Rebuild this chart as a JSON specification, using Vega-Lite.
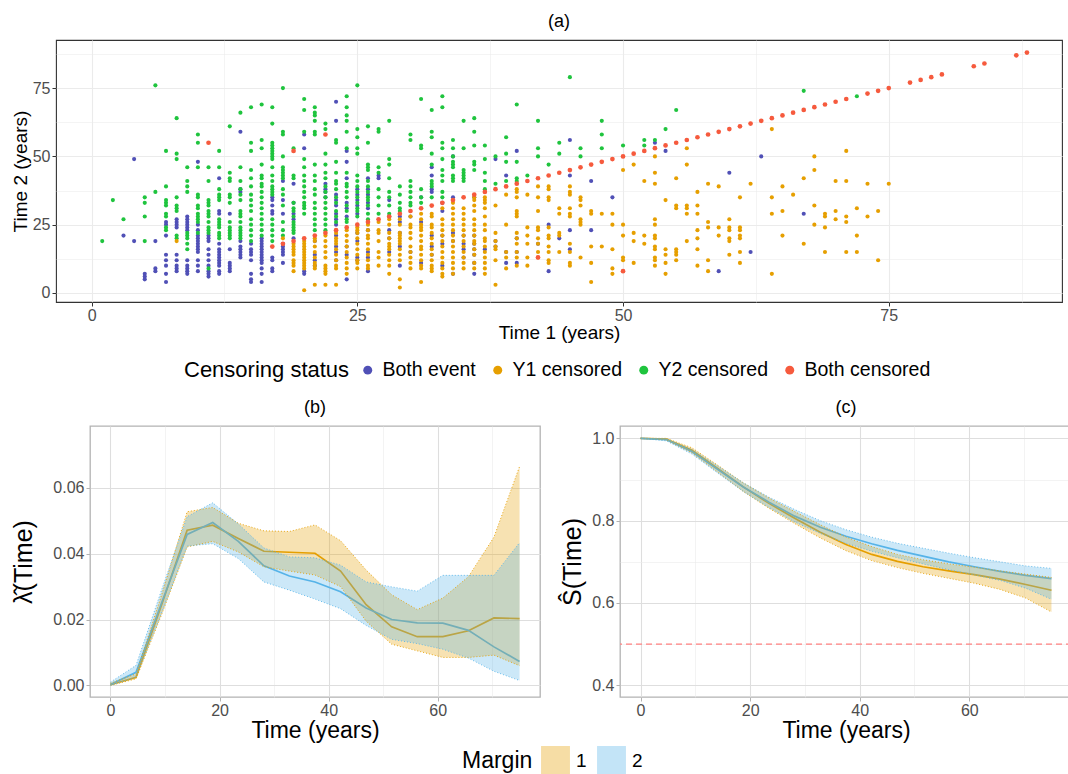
{
"$schema": "https://vega.github.io/schema/vega-lite/v6.json",
"padding": {"left": 10, "top": 12, "right": 0, "bottom": 0},
"config": {
  "font": "Liberation Sans",
  "title": {"fontSize": 18, "fontWeight": "normal", "offset": 9, "anchor": "middle", "frame": "group", "color": "#000000"},
  "axis": {"domain": false, "labelOverlap": false, "labelFlush": false, "titleFontWeight": "normal", "titleColor": "#000000", "labelColor": "#4D4D4D", "tickSize": 4},
  "legend": {"titleFontWeight": "normal", "titleColor": "#000000", "labelColor": "#000000", "titleLimit": 500, "labelLimit": 300},
  "view": {"strokeWidth": 1}
},
"datasets": {
"E": [
{"t1":3,"t2":21},{"t1":4,"t2":49},{"t1":4,"t2":19},{"t1":5,"t2":7},{"t1":5,"t2":6},{"t1":5,"t2":5},{"t1":6,"t2":19},{"t1":6,"t2":9},{"t1":6,"t2":8},
{"t1":7,"t2":26},{"t1":7,"t2":25},{"t1":7,"t2":21},{"t1":7,"t2":14},{"t1":7,"t2":12},{"t1":7,"t2":10},{"t1":7,"t2":7},{"t1":7,"t2":4},
{"t1":8,"t2":27},{"t1":8,"t2":26},{"t1":8,"t2":25},{"t1":8,"t2":24},{"t1":8,"t2":14},{"t1":8,"t2":12},{"t1":8,"t2":10},{"t1":8,"t2":9},{"t1":8,"t2":8},
{"t1":9,"t2":28},{"t1":9,"t2":27},{"t1":9,"t2":26},{"t1":9,"t2":25},{"t1":9,"t2":24},{"t1":9,"t2":23},{"t1":9,"t2":12},{"t1":9,"t2":10},{"t1":9,"t2":9},{"t1":9,"t2":8},{"t1":9,"t2":7},
{"t1":10,"t2":48},{"t1":10,"t2":25},{"t1":10,"t2":23},{"t1":10,"t2":21},{"t1":10,"t2":20},{"t1":10,"t2":19},{"t1":10,"t2":18},{"t1":10,"t2":17},{"t1":10,"t2":16},{"t1":10,"t2":15},{"t1":10,"t2":12},{"t1":10,"t2":10},{"t1":10,"t2":8},
{"t1":11,"t2":21},{"t1":11,"t2":20},{"t1":11,"t2":19},{"t1":11,"t2":16},{"t1":11,"t2":14},{"t1":11,"t2":12},{"t1":11,"t2":10},{"t1":11,"t2":8},{"t1":11,"t2":7},{"t1":11,"t2":6},
{"t1":12,"t2":42},{"t1":12,"t2":30},{"t1":12,"t2":29},{"t1":12,"t2":18},{"t1":12,"t2":16},{"t1":12,"t2":15},{"t1":12,"t2":14},{"t1":12,"t2":13},{"t1":12,"t2":12},{"t1":12,"t2":11},{"t1":12,"t2":10},{"t1":12,"t2":8},{"t1":12,"t2":7},
{"t1":13,"t2":29},{"t1":13,"t2":16},{"t1":13,"t2":11},{"t1":13,"t2":10},{"t1":13,"t2":9},{"t1":13,"t2":8},
{"t1":14,"t2":59},{"t1":14,"t2":38},{"t1":14,"t2":37},{"t1":14,"t2":19},{"t1":14,"t2":17},{"t1":14,"t2":16},{"t1":14,"t2":15},{"t1":14,"t2":14},{"t1":14,"t2":13},
{"t1":15,"t2":18},{"t1":15,"t2":16},{"t1":15,"t2":15},{"t1":15,"t2":14},{"t1":15,"t2":12},{"t1":15,"t2":7},{"t1":15,"t2":5},{"t1":15,"t2":4},
{"t1":16,"t2":20},{"t1":16,"t2":19},{"t1":16,"t2":18},{"t1":16,"t2":17},{"t1":16,"t2":16},{"t1":16,"t2":15},{"t1":16,"t2":14},{"t1":16,"t2":13},{"t1":16,"t2":12},{"t1":16,"t2":11},{"t1":16,"t2":9},{"t1":16,"t2":7},{"t1":16,"t2":4},
{"t1":17,"t2":35},{"t1":17,"t2":34},{"t1":17,"t2":32},{"t1":17,"t2":30},{"t1":17,"t2":29},{"t1":17,"t2":13},{"t1":17,"t2":12},{"t1":17,"t2":9},{"t1":17,"t2":8},
{"t1":18,"t2":41},{"t1":18,"t2":34},{"t1":18,"t2":29},{"t1":18,"t2":18},{"t1":18,"t2":17},{"t1":18,"t2":16},{"t1":18,"t2":15},{"t1":18,"t2":14},{"t1":18,"t2":11},
{"t1":19,"t2":40},{"t1":19,"t2":33},{"t1":19,"t2":29},{"t1":19,"t2":27},{"t1":19,"t2":20},
{"t1":20,"t2":58},{"t1":20,"t2":53},{"t1":20,"t2":8},{"t1":20,"t2":7},
{"t1":21,"t2":19},{"t1":21,"t2":14},{"t1":21,"t2":12},{"t1":21,"t2":10},
{"t1":22,"t2":40},{"t1":22,"t2":38},{"t1":22,"t2":37},{"t1":22,"t2":35},
{"t1":23,"t2":70},{"t1":23,"t2":63},{"t1":23,"t2":36},{"t1":23,"t2":34},{"t1":23,"t2":32},{"t1":23,"t2":29},{"t1":23,"t2":27},{"t1":23,"t2":25},{"t1":23,"t2":21},{"t1":23,"t2":17},{"t1":23,"t2":15},{"t1":23,"t2":12},
{"t1":24,"t2":52},{"t1":24,"t2":48},{"t1":24,"t2":42},{"t1":24,"t2":33},{"t1":24,"t2":31},{"t1":24,"t2":28},{"t1":24,"t2":17},{"t1":24,"t2":14},{"t1":24,"t2":5},
{"t1":25,"t2":38},{"t1":25,"t2":36},{"t1":25,"t2":34},{"t1":25,"t2":32},{"t1":25,"t2":29},{"t1":25,"t2":22},{"t1":25,"t2":19},{"t1":25,"t2":13},{"t1":25,"t2":12},
{"t1":26,"t2":42},{"t1":26,"t2":38},{"t1":26,"t2":36},{"t1":26,"t2":33},{"t1":26,"t2":31},{"t1":26,"t2":23},{"t1":26,"t2":15},{"t1":26,"t2":13},{"t1":26,"t2":8},
{"t1":27,"t2":43},{"t1":27,"t2":42},
{"t1":28,"t2":34},{"t1":28,"t2":28},{"t1":28,"t2":23},{"t1":28,"t2":20},{"t1":28,"t2":15},
{"t1":29,"t2":28},{"t1":29,"t2":26},{"t1":29,"t2":22},{"t1":29,"t2":17},{"t1":29,"t2":10},
{"t1":30,"t2":28},{"t1":30,"t2":15},
{"t1":31,"t2":35},{"t1":31,"t2":26},{"t1":31,"t2":11},
{"t1":32,"t2":46},{"t1":32,"t2":43},{"t1":32,"t2":38},{"t1":32,"t2":37},{"t1":32,"t2":21},{"t1":32,"t2":17},{"t1":32,"t2":14},
{"t1":33,"t2":33},{"t1":33,"t2":30},{"t1":33,"t2":21},{"t1":33,"t2":18},{"t1":33,"t2":10},
{"t1":34,"t2":50},{"t1":34,"t2":35},{"t1":34,"t2":22},{"t1":34,"t2":19},{"t1":34,"t2":7},
{"t1":35,"t2":21},{"t1":35,"t2":18},{"t1":35,"t2":16},{"t1":35,"t2":13},
{"t1":36,"t2":35},{"t1":36,"t2":21},{"t1":36,"t2":18},{"t1":36,"t2":16},{"t1":36,"t2":14},{"t1":36,"t2":11},{"t1":36,"t2":7},
{"t1":37,"t2":16},{"t1":38,"t2":49},{"t1":38,"t2":19},{"t1":38,"t2":17},{"t1":39,"t2":43},{"t1":39,"t2":15},{"t1":39,"t2":11},
{"t1":40,"t2":52},{"t1":40,"t2":20},{"t1":40,"t2":15},{"t1":40,"t2":11},{"t1":42,"t2":18},{"t1":43,"t2":25},{"t1":43,"t2":8},{"t1":44,"t2":20},
{"t1":45,"t2":56},{"t1":45,"t2":43},{"t1":45,"t2":23},{"t1":45,"t2":16},{"t1":47,"t2":41},{"t1":47,"t2":23},{"t1":49,"t2":35},{"t1":53,"t2":55},{"t1":54,"t2":52},
{"t1":59,"t2":8},{"t1":60,"t2":44},{"t1":62,"t2":15},{"t1":63,"t2":50},{"t1":67,"t2":29}
],
"Y1": [
{"t1":8,"t2":19},{"t1":18,"t2":20},
{"t1":19,"t2":18},{"t1":19,"t2":17},{"t1":19,"t2":16},{"t1":19,"t2":15},{"t1":19,"t2":14},{"t1":19,"t2":12},{"t1":19,"t2":11},{"t1":19,"t2":10},{"t1":19,"t2":8},
{"t1":20,"t2":19},{"t1":20,"t2":18},{"t1":20,"t2":17},{"t1":20,"t2":16},{"t1":20,"t2":15},{"t1":20,"t2":14},{"t1":20,"t2":13},{"t1":20,"t2":12},{"t1":20,"t2":11},{"t1":20,"t2":10},{"t1":20,"t2":9},{"t1":20,"t2":1},
{"t1":21,"t2":20},{"t1":21,"t2":19},{"t1":21,"t2":17},{"t1":21,"t2":15},{"t1":21,"t2":13},{"t1":21,"t2":11},{"t1":21,"t2":10},{"t1":21,"t2":9},{"t1":21,"t2":3},
{"t1":22,"t2":21},{"t1":22,"t2":19},{"t1":22,"t2":17},{"t1":22,"t2":15},{"t1":22,"t2":13},{"t1":22,"t2":10},{"t1":22,"t2":9},{"t1":22,"t2":8},{"t1":22,"t2":7},{"t1":22,"t2":3},
{"t1":23,"t2":22},{"t1":23,"t2":20},{"t1":23,"t2":19},{"t1":23,"t2":18},{"t1":23,"t2":16},{"t1":23,"t2":14},{"t1":23,"t2":12},{"t1":23,"t2":10},{"t1":23,"t2":9},{"t1":23,"t2":3},
{"t1":24,"t2":23},{"t1":24,"t2":21},{"t1":24,"t2":19},{"t1":24,"t2":17},{"t1":24,"t2":15},{"t1":24,"t2":13},{"t1":24,"t2":11},{"t1":24,"t2":9},{"t1":24,"t2":7},
{"t1":25,"t2":24},{"t1":25,"t2":23},{"t1":25,"t2":22},{"t1":25,"t2":20},{"t1":25,"t2":18},{"t1":25,"t2":16},{"t1":25,"t2":14},{"t1":25,"t2":12},{"t1":25,"t2":11},{"t1":25,"t2":9},
{"t1":26,"t2":25},{"t1":26,"t2":23},{"t1":26,"t2":21},{"t1":26,"t2":20},{"t1":26,"t2":18},{"t1":26,"t2":16},{"t1":26,"t2":14},{"t1":26,"t2":12},{"t1":26,"t2":10},{"t1":26,"t2":9},
{"t1":27,"t2":26},{"t1":27,"t2":23},{"t1":27,"t2":22},{"t1":27,"t2":19},{"t1":27,"t2":15},{"t1":27,"t2":13},{"t1":27,"t2":10},
{"t1":28,"t2":27},{"t1":28,"t2":25},{"t1":28,"t2":22},{"t1":28,"t2":20},{"t1":28,"t2":18},{"t1":28,"t2":17},{"t1":28,"t2":16},{"t1":28,"t2":14},{"t1":28,"t2":12},{"t1":28,"t2":10},{"t1":28,"t2":7},
{"t1":29,"t2":27},{"t1":29,"t2":25},{"t1":29,"t2":22},{"t1":29,"t2":21},{"t1":29,"t2":20},{"t1":29,"t2":19},{"t1":29,"t2":18},{"t1":29,"t2":16},{"t1":29,"t2":14},{"t1":29,"t2":12},{"t1":29,"t2":5},{"t1":29,"t2":2},
{"t1":30,"t2":28},{"t1":30,"t2":25},{"t1":30,"t2":24},{"t1":30,"t2":22},{"t1":30,"t2":20},{"t1":30,"t2":17},{"t1":30,"t2":15},{"t1":30,"t2":13},{"t1":30,"t2":11},{"t1":30,"t2":9},
{"t1":31,"t2":29},{"t1":31,"t2":27},{"t1":31,"t2":25},{"t1":31,"t2":24},{"t1":31,"t2":23},{"t1":31,"t2":21},{"t1":31,"t2":19},{"t1":31,"t2":17},{"t1":31,"t2":16},{"t1":31,"t2":14},{"t1":31,"t2":12},{"t1":31,"t2":10},{"t1":31,"t2":9},{"t1":31,"t2":4},
{"t1":32,"t2":29},{"t1":32,"t2":28},{"t1":32,"t2":25},{"t1":32,"t2":24},{"t1":32,"t2":22},{"t1":32,"t2":20},{"t1":32,"t2":18},{"t1":32,"t2":16},{"t1":32,"t2":14},{"t1":32,"t2":12},{"t1":32,"t2":10},{"t1":32,"t2":9},{"t1":32,"t2":8},
{"t1":33,"t2":31},{"t1":33,"t2":27},{"t1":33,"t2":25},{"t1":33,"t2":23},{"t1":33,"t2":21},{"t1":33,"t2":19},{"t1":33,"t2":17},{"t1":33,"t2":15},{"t1":33,"t2":13},{"t1":33,"t2":11},{"t1":33,"t2":9},{"t1":33,"t2":7},{"t1":33,"t2":6},
{"t1":34,"t2":33},{"t1":34,"t2":31},{"t1":34,"t2":29},{"t1":34,"t2":27},{"t1":34,"t2":25},{"t1":34,"t2":23},{"t1":34,"t2":21},{"t1":34,"t2":19},{"t1":34,"t2":17},{"t1":34,"t2":15},{"t1":34,"t2":13},{"t1":34,"t2":11},{"t1":34,"t2":9},{"t1":34,"t2":7},
{"t1":35,"t2":31},{"t1":35,"t2":29},{"t1":35,"t2":27},{"t1":35,"t2":25},{"t1":35,"t2":23},{"t1":35,"t2":21},{"t1":35,"t2":19},{"t1":35,"t2":17},{"t1":35,"t2":15},{"t1":35,"t2":13},{"t1":35,"t2":11},{"t1":35,"t2":9},
{"t1":36,"t2":35},{"t1":36,"t2":34},{"t1":36,"t2":32},{"t1":36,"t2":30},{"t1":36,"t2":27},{"t1":36,"t2":25},{"t1":36,"t2":23},{"t1":36,"t2":21},{"t1":36,"t2":19},{"t1":36,"t2":18},{"t1":36,"t2":16},{"t1":36,"t2":14},{"t1":36,"t2":11},{"t1":36,"t2":9},
{"t1":37,"t2":35},{"t1":37,"t2":34},{"t1":37,"t2":33},{"t1":37,"t2":31},{"t1":37,"t2":28},{"t1":37,"t2":25},{"t1":37,"t2":23},{"t1":37,"t2":20},{"t1":37,"t2":19},{"t1":37,"t2":17},{"t1":37,"t2":15},{"t1":37,"t2":13},{"t1":37,"t2":11},{"t1":37,"t2":9},{"t1":37,"t2":7},
{"t1":38,"t2":32},{"t1":38,"t2":22},{"t1":38,"t2":19},{"t1":38,"t2":17},{"t1":38,"t2":16},{"t1":38,"t2":12},{"t1":38,"t2":3},
{"t1":39,"t2":36},{"t1":39,"t2":25},{"t1":39,"t2":15},{"t1":39,"t2":13},{"t1":39,"t2":9},
{"t1":40,"t2":38},{"t1":40,"t2":37},{"t1":40,"t2":35},{"t1":40,"t2":30},{"t1":40,"t2":29},{"t1":40,"t2":28},{"t1":40,"t2":22},{"t1":40,"t2":20},{"t1":40,"t2":18},{"t1":40,"t2":15},{"t1":40,"t2":13},{"t1":40,"t2":10},
{"t1":41,"t2":36},{"t1":41,"t2":24},{"t1":41,"t2":21},{"t1":41,"t2":18},{"t1":41,"t2":13},{"t1":41,"t2":10},
{"t1":42,"t2":39},{"t1":42,"t2":35},{"t1":42,"t2":30},{"t1":42,"t2":24},{"t1":42,"t2":23},{"t1":42,"t2":20},{"t1":42,"t2":18},{"t1":42,"t2":15},{"t1":42,"t2":13},
{"t1":43,"t2":39},{"t1":43,"t2":38},{"t1":43,"t2":35},{"t1":43,"t2":34},{"t1":43,"t2":24},{"t1":43,"t2":21},{"t1":43,"t2":20},{"t1":43,"t2":17},{"t1":43,"t2":15},{"t1":43,"t2":12},{"t1":43,"t2":11},
{"t1":44,"t2":31},{"t1":44,"t2":29},{"t1":44,"t2":22},{"t1":44,"t2":21},{"t1":44,"t2":15},
{"t1":45,"t2":39},{"t1":45,"t2":37},{"t1":45,"t2":36},{"t1":45,"t2":31},{"t1":45,"t2":29},{"t1":45,"t2":28},{"t1":45,"t2":18},{"t1":45,"t2":15},{"t1":45,"t2":11},{"t1":45,"t2":10},
{"t1":46,"t2":35},{"t1":46,"t2":34},{"t1":46,"t2":32},{"t1":46,"t2":27},{"t1":46,"t2":26},{"t1":46,"t2":25},{"t1":46,"t2":13},
{"t1":47,"t2":30},{"t1":47,"t2":29},{"t1":47,"t2":17},{"t1":47,"t2":11},{"t1":47,"t2":4},
{"t1":48,"t2":29},{"t1":48,"t2":17},
{"t1":49,"t2":29},{"t1":49,"t2":25},{"t1":49,"t2":16},{"t1":49,"t2":9},{"t1":49,"t2":7},
{"t1":50,"t2":45},{"t1":50,"t2":25},{"t1":50,"t2":21},{"t1":50,"t2":13},{"t1":50,"t2":12},
{"t1":51,"t2":47},{"t1":51,"t2":22},{"t1":51,"t2":19},{"t1":51,"t2":11},
{"t1":52,"t2":41},{"t1":52,"t2":21},{"t1":52,"t2":18},
{"t1":53,"t2":50},{"t1":53,"t2":44},{"t1":53,"t2":40},{"t1":53,"t2":27},{"t1":53,"t2":25},{"t1":53,"t2":21},{"t1":53,"t2":20},{"t1":53,"t2":17},{"t1":53,"t2":16},{"t1":53,"t2":13},{"t1":53,"t2":12},{"t1":53,"t2":10},
{"t1":54,"t2":34},{"t1":54,"t2":16},{"t1":54,"t2":14},{"t1":54,"t2":11},{"t1":54,"t2":7},
{"t1":55,"t2":42},{"t1":55,"t2":32},{"t1":55,"t2":31},{"t1":55,"t2":16},{"t1":55,"t2":15},{"t1":55,"t2":14},{"t1":55,"t2":12},
{"t1":56,"t2":53},{"t1":56,"t2":47},{"t1":56,"t2":32},{"t1":56,"t2":31},{"t1":56,"t2":29},{"t1":56,"t2":19},
{"t1":57,"t2":37},{"t1":57,"t2":32},{"t1":57,"t2":29},{"t1":57,"t2":23},{"t1":57,"t2":20},{"t1":57,"t2":16},{"t1":57,"t2":10},
{"t1":58,"t2":40},{"t1":58,"t2":26},{"t1":58,"t2":24},{"t1":58,"t2":12},{"t1":58,"t2":8},
{"t1":59,"t2":39},{"t1":59,"t2":24},{"t1":59,"t2":21},
{"t1":60,"t2":27},{"t1":60,"t2":24},{"t1":60,"t2":23},{"t1":60,"t2":20},{"t1":60,"t2":19},{"t1":60,"t2":14},
{"t1":61,"t2":35},{"t1":61,"t2":24},{"t1":61,"t2":23},{"t1":61,"t2":21},{"t1":61,"t2":20},{"t1":61,"t2":15},{"t1":61,"t2":11},
{"t1":62,"t2":40},{"t1":64,"t2":60},{"t1":64,"t2":35},{"t1":64,"t2":29},{"t1":64,"t2":7},
{"t1":65,"t2":39},{"t1":65,"t2":30},{"t1":65,"t2":21},{"t1":66,"t2":36},{"t1":67,"t2":42},{"t1":67,"t2":18},
{"t1":68,"t2":50},{"t1":68,"t2":45},{"t1":68,"t2":32},{"t1":68,"t2":25},
{"t1":69,"t2":29},{"t1":69,"t2":28},{"t1":69,"t2":24},{"t1":69,"t2":15},
{"t1":70,"t2":41},{"t1":70,"t2":30},{"t1":70,"t2":27},
{"t1":71,"t2":52},{"t1":71,"t2":41},{"t1":71,"t2":28},{"t1":71,"t2":26},{"t1":71,"t2":15},
{"t1":72,"t2":31},{"t1":72,"t2":21},{"t1":72,"t2":15},{"t1":73,"t2":40},{"t1":73,"t2":28},{"t1":74,"t2":30},{"t1":74,"t2":12},{"t1":75,"t2":40}
],
"Y2": [
{"t1":1,"t2":19},{"t1":2,"t2":34},{"t1":3,"t2":27},
{"t1":5,"t2":35},{"t1":5,"t2":33},{"t1":5,"t2":28},{"t1":5,"t2":19},{"t1":6,"t2":76},{"t1":6,"t2":37},
{"t1":7,"t2":52},{"t1":7,"t2":39},{"t1":7,"t2":34},{"t1":7,"t2":33},{"t1":7,"t2":32},{"t1":7,"t2":29},{"t1":7,"t2":28},{"t1":7,"t2":24},{"t1":7,"t2":23},
{"t1":8,"t2":64},{"t1":8,"t2":51},{"t1":8,"t2":49},{"t1":8,"t2":35},{"t1":8,"t2":32},{"t1":8,"t2":31},{"t1":8,"t2":30},{"t1":8,"t2":21},{"t1":8,"t2":20},
{"t1":9,"t2":46},{"t1":9,"t2":41},{"t1":9,"t2":39},{"t1":9,"t2":37},{"t1":9,"t2":22},{"t1":9,"t2":21},{"t1":9,"t2":20},{"t1":9,"t2":18},{"t1":9,"t2":16},
{"t1":10,"t2":58},{"t1":10,"t2":55},{"t1":10,"t2":46},{"t1":10,"t2":36},{"t1":10,"t2":35},{"t1":10,"t2":32},{"t1":10,"t2":31},{"t1":10,"t2":29},{"t1":10,"t2":28},{"t1":10,"t2":27},{"t1":10,"t2":26},{"t1":10,"t2":22},
{"t1":11,"t2":46},{"t1":11,"t2":41},{"t1":11,"t2":34},{"t1":11,"t2":33},{"t1":11,"t2":32},{"t1":11,"t2":30},{"t1":11,"t2":29},{"t1":11,"t2":28},{"t1":11,"t2":26},{"t1":11,"t2":24},{"t1":11,"t2":23},{"t1":11,"t2":22},{"t1":11,"t2":9},
{"t1":12,"t2":52},{"t1":12,"t2":46},{"t1":12,"t2":38},{"t1":12,"t2":36},{"t1":12,"t2":35},{"t1":12,"t2":34},{"t1":12,"t2":27},{"t1":12,"t2":26},{"t1":12,"t2":25},{"t1":12,"t2":24},{"t1":12,"t2":22},{"t1":12,"t2":21},{"t1":12,"t2":20},
{"t1":13,"t2":61},{"t1":13,"t2":44},{"t1":13,"t2":42},{"t1":13,"t2":41},{"t1":13,"t2":36},{"t1":13,"t2":35},{"t1":13,"t2":33},{"t1":13,"t2":26},{"t1":13,"t2":24},{"t1":13,"t2":23},{"t1":13,"t2":22},{"t1":13,"t2":21},{"t1":13,"t2":20},
{"t1":14,"t2":66},{"t1":14,"t2":46},{"t1":14,"t2":41},{"t1":14,"t2":38},{"t1":14,"t2":36},{"t1":14,"t2":34},{"t1":14,"t2":30},{"t1":14,"t2":29},{"t1":14,"t2":28},{"t1":14,"t2":26},{"t1":14,"t2":24},{"t1":14,"t2":23},{"t1":14,"t2":22},{"t1":14,"t2":21},{"t1":14,"t2":20},
{"t1":15,"t2":68},{"t1":15,"t2":55},{"t1":15,"t2":52},{"t1":15,"t2":45},{"t1":15,"t2":42},{"t1":15,"t2":39},{"t1":15,"t2":36},{"t1":15,"t2":34},{"t1":15,"t2":32},{"t1":15,"t2":30},{"t1":15,"t2":27},{"t1":15,"t2":25},{"t1":15,"t2":23},{"t1":15,"t2":21},{"t1":15,"t2":19},
{"t1":16,"t2":69},{"t1":16,"t2":56},{"t1":16,"t2":53},{"t1":16,"t2":47},{"t1":16,"t2":43},{"t1":16,"t2":42},{"t1":16,"t2":40},{"t1":16,"t2":39},{"t1":16,"t2":37},{"t1":16,"t2":35},{"t1":16,"t2":33},{"t1":16,"t2":31},{"t1":16,"t2":29},{"t1":16,"t2":27},{"t1":16,"t2":25},{"t1":16,"t2":23},{"t1":16,"t2":21},
{"t1":17,"t2":68},{"t1":17,"t2":62},{"t1":17,"t2":55},{"t1":17,"t2":54},{"t1":17,"t2":53},{"t1":17,"t2":52},{"t1":17,"t2":51},{"t1":17,"t2":50},{"t1":17,"t2":49},{"t1":17,"t2":46},{"t1":17,"t2":43},{"t1":17,"t2":41},{"t1":17,"t2":39},{"t1":17,"t2":38},{"t1":17,"t2":37},{"t1":17,"t2":36},{"t1":17,"t2":27},{"t1":17,"t2":25},{"t1":17,"t2":23},{"t1":17,"t2":21},{"t1":17,"t2":19},
{"t1":18,"t2":75},{"t1":18,"t2":59},{"t1":18,"t2":58},{"t1":18,"t2":50},{"t1":18,"t2":46},{"t1":18,"t2":45},{"t1":18,"t2":44},{"t1":18,"t2":43},{"t1":18,"t2":42},{"t1":18,"t2":38},{"t1":18,"t2":36},{"t1":18,"t2":32},{"t1":18,"t2":26},{"t1":18,"t2":23},{"t1":18,"t2":21},
{"t1":19,"t2":53},{"t1":19,"t2":43},{"t1":19,"t2":42},{"t1":19,"t2":33},{"t1":19,"t2":31},{"t1":19,"t2":30},{"t1":19,"t2":28},{"t1":19,"t2":26},{"t1":19,"t2":25},{"t1":19,"t2":24},{"t1":19,"t2":23},{"t1":19,"t2":22},
{"t1":20,"t2":71},{"t1":20,"t2":67},{"t1":20,"t2":59},{"t1":20,"t2":49},{"t1":20,"t2":46},{"t1":20,"t2":43},{"t1":20,"t2":41},{"t1":20,"t2":39},{"t1":20,"t2":37},{"t1":20,"t2":35},{"t1":20,"t2":33},{"t1":20,"t2":32},{"t1":20,"t2":31},{"t1":20,"t2":29},
{"t1":21,"t2":68},{"t1":21,"t2":66},{"t1":21,"t2":65},{"t1":21,"t2":63},{"t1":21,"t2":59},{"t1":21,"t2":58},{"t1":21,"t2":47},{"t1":21,"t2":43},{"t1":21,"t2":41},{"t1":21,"t2":38},{"t1":21,"t2":36},{"t1":21,"t2":33},{"t1":21,"t2":31},{"t1":21,"t2":29},{"t1":21,"t2":27},{"t1":21,"t2":25},{"t1":21,"t2":23},
{"t1":22,"t2":62},{"t1":22,"t2":60},{"t1":22,"t2":51},{"t1":22,"t2":47},{"t1":22,"t2":44},{"t1":22,"t2":42},{"t1":22,"t2":39},{"t1":22,"t2":37},{"t1":22,"t2":35},{"t1":22,"t2":33},{"t1":22,"t2":31},{"t1":22,"t2":29},{"t1":22,"t2":27},{"t1":22,"t2":25},{"t1":22,"t2":23},
{"t1":23,"t2":56},{"t1":23,"t2":55},{"t1":23,"t2":48},{"t1":23,"t2":44},{"t1":23,"t2":41},{"t1":23,"t2":40},{"t1":23,"t2":38},{"t1":23,"t2":35},{"t1":23,"t2":33},{"t1":23,"t2":30},{"t1":23,"t2":28},{"t1":23,"t2":26},
{"t1":24,"t2":72},{"t1":24,"t2":68},{"t1":24,"t2":65},{"t1":24,"t2":63},{"t1":24,"t2":59},{"t1":24,"t2":53},{"t1":24,"t2":44},{"t1":24,"t2":40},{"t1":24,"t2":39},{"t1":24,"t2":37},{"t1":24,"t2":35},{"t1":24,"t2":32},{"t1":24,"t2":30},{"t1":24,"t2":27},{"t1":24,"t2":26},
{"t1":25,"t2":76},{"t1":25,"t2":60},{"t1":25,"t2":57},{"t1":25,"t2":53},{"t1":25,"t2":51},{"t1":25,"t2":43},{"t1":25,"t2":41},{"t1":25,"t2":39},{"t1":25,"t2":37},{"t1":25,"t2":35},{"t1":25,"t2":33},{"t1":25,"t2":31},{"t1":25,"t2":30},{"t1":25,"t2":28},
{"t1":26,"t2":61},{"t1":26,"t2":55},{"t1":26,"t2":47},{"t1":26,"t2":46},{"t1":26,"t2":45},{"t1":26,"t2":41},{"t1":26,"t2":39},{"t1":26,"t2":37},{"t1":26,"t2":35},{"t1":26,"t2":34},{"t1":26,"t2":32},{"t1":26,"t2":29},{"t1":26,"t2":27},
{"t1":27,"t2":60},{"t1":27,"t2":59},{"t1":27,"t2":46},{"t1":27,"t2":44},{"t1":27,"t2":38},{"t1":27,"t2":35},{"t1":27,"t2":32},{"t1":27,"t2":29},
{"t1":28,"t2":63},{"t1":28,"t2":49},{"t1":28,"t2":47},{"t1":28,"t2":42},{"t1":28,"t2":37},{"t1":28,"t2":35},{"t1":28,"t2":32},{"t1":28,"t2":29},
{"t1":29,"t2":39},{"t1":29,"t2":36},{"t1":29,"t2":33},{"t1":29,"t2":31},{"t1":29,"t2":30},
{"t1":30,"t2":58},{"t1":30,"t2":56},{"t1":30,"t2":41},{"t1":30,"t2":39},{"t1":30,"t2":37},{"t1":30,"t2":35},{"t1":30,"t2":33},{"t1":30,"t2":32},
{"t1":31,"t2":71},{"t1":31,"t2":54},{"t1":31,"t2":53},{"t1":31,"t2":38},{"t1":31,"t2":35},{"t1":31,"t2":33},
{"t1":32,"t2":67},{"t1":32,"t2":59},{"t1":32,"t2":57},{"t1":32,"t2":51},{"t1":32,"t2":47},{"t1":32,"t2":41},{"t1":32,"t2":40},{"t1":32,"t2":39},{"t1":32,"t2":35},
{"t1":33,"t2":72},{"t1":33,"t2":68},{"t1":33,"t2":55},{"t1":33,"t2":53},{"t1":33,"t2":49},{"t1":33,"t2":45},{"t1":33,"t2":43},{"t1":33,"t2":41},{"t1":33,"t2":37},{"t1":33,"t2":35},
{"t1":34,"t2":56},{"t1":34,"t2":53},{"t1":34,"t2":50},{"t1":34,"t2":48},{"t1":34,"t2":47},{"t1":34,"t2":46},{"t1":34,"t2":43},{"t1":34,"t2":42},{"t1":34,"t2":41},
{"t1":35,"t2":63},{"t1":35,"t2":53},{"t1":35,"t2":45},{"t1":35,"t2":44},{"t1":35,"t2":43},{"t1":35,"t2":42},{"t1":35,"t2":41},
{"t1":36,"t2":64},{"t1":36,"t2":59},{"t1":36,"t2":54},{"t1":36,"t2":48},{"t1":36,"t2":47},{"t1":36,"t2":45},
{"t1":37,"t2":54},{"t1":37,"t2":49},{"t1":37,"t2":44},{"t1":37,"t2":41},{"t1":37,"t2":38},
{"t1":38,"t2":50},{"t1":38,"t2":40},{"t1":39,"t2":57},{"t1":39,"t2":51},{"t1":39,"t2":48},{"t1":39,"t2":41},
{"t1":40,"t2":69},{"t1":40,"t2":48},{"t1":40,"t2":42},{"t1":40,"t2":41},{"t1":41,"t2":43},
{"t1":42,"t2":63},{"t1":42,"t2":53},{"t1":42,"t2":50},{"t1":43,"t2":47},{"t1":44,"t2":55},{"t1":44,"t2":51},{"t1":45,"t2":79},
{"t1":46,"t2":53},{"t1":46,"t2":50},{"t1":48,"t2":63},{"t1":48,"t2":58},{"t1":48,"t2":53},{"t1":50,"t2":54},{"t1":52,"t2":56},{"t1":52,"t2":54},
{"t1":53,"t2":56},{"t1":54,"t2":60},{"t1":55,"t2":67},{"t1":67,"t2":74},{"t1":72,"t2":72}
],
"C": [
{"t1":11,"t2":55},{"t1":19,"t2":52},{"t1":22,"t2":58},{"t1":42,"t2":13},{"t1":50,"t2":8},
{"t1":17,"t2":17},{"t1":18,"t2":18},{"t1":19,"t2":19},{"t1":20,"t2":20},{"t1":21,"t2":21},{"t1":22,"t2":22},{"t1":23,"t2":23},{"t1":24,"t2":24},{"t1":25,"t2":25},{"t1":26,"t2":26},
{"t1":27,"t2":27},{"t1":28,"t2":28},{"t1":29,"t2":29},{"t1":30,"t2":30},{"t1":31,"t2":31},{"t1":32,"t2":32},{"t1":33,"t2":33},{"t1":34,"t2":34},{"t1":35,"t2":35},{"t1":36,"t2":36},
{"t1":37,"t2":37},{"t1":38,"t2":38},{"t1":39,"t2":39},{"t1":40,"t2":40},{"t1":41,"t2":41},{"t1":42,"t2":42},{"t1":43,"t2":43},{"t1":44,"t2":44},{"t1":45,"t2":45},{"t1":46,"t2":46},
{"t1":47,"t2":47},{"t1":48,"t2":48},{"t1":49,"t2":49},{"t1":50,"t2":50},{"t1":51,"t2":51},{"t1":52,"t2":52},{"t1":53,"t2":53},{"t1":54,"t2":54},{"t1":55,"t2":55},{"t1":56,"t2":56},
{"t1":57,"t2":57},{"t1":58,"t2":58},{"t1":59,"t2":59},{"t1":60,"t2":60},{"t1":61,"t2":61},{"t1":62,"t2":62},{"t1":63,"t2":63},{"t1":64,"t2":64},{"t1":65,"t2":65},{"t1":66,"t2":66},
{"t1":67,"t2":67},{"t1":68,"t2":68},{"t1":69,"t2":69},{"t1":70,"t2":70},{"t1":71,"t2":71},{"t1":73,"t2":73},{"t1":74,"t2":74},{"t1":75,"t2":75},{"t1":77,"t2":77},{"t1":78,"t2":78},
{"t1":79,"t2":79},{"t1":80,"t2":80},{"t1":83,"t2":83},{"t1":84,"t2":84},{"t1":87,"t2":87},{"t1":88,"t2":88}
],
"haz": [
{"t":0,"m":"1","est":0.0002,"lo":0.0,"hi":0.0007},
{"t":4.69,"m":"1","est":0.0025,"lo":0.0020,"hi":0.0035},
{"t":9.38,"m":"1","est":0.0245,"lo":0.0215,"hi":0.0275},
{"t":14.06,"m":"1","est":0.0471,"lo":0.0420,"hi":0.0527},
{"t":18.75,"m":"1","est":0.0486,"lo":0.0437,"hi":0.0540},
{"t":23.44,"m":"1","est":0.0446,"lo":0.0405,"hi":0.0492},
{"t":28.13,"m":"1","est":0.0407,"lo":0.0360,"hi":0.0469},
{"t":32.81,"m":"1","est":0.0404,"lo":0.0347,"hi":0.0467},
{"t":37.5,"m":"1","est":0.0401,"lo":0.0335,"hi":0.0487},
{"t":42.19,"m":"1","est":0.0347,"lo":0.0300,"hi":0.0439},
{"t":46.88,"m":"1","est":0.0245,"lo":0.0195,"hi":0.0350},
{"t":51.56,"m":"1","est":0.0178,"lo":0.0125,"hi":0.0275},
{"t":56.25,"m":"1","est":0.0148,"lo":0.0105,"hi":0.0230},
{"t":60.94,"m":"1","est":0.0148,"lo":0.0085,"hi":0.0265},
{"t":65.63,"m":"1","est":0.0166,"lo":0.0085,"hi":0.0330},
{"t":70.31,"m":"1","est":0.0205,"lo":0.0092,"hi":0.0450},
{"t":75,"m":"1","est":0.0203,"lo":0.0060,"hi":0.0664},
{"t":0,"m":"2","est":0.0003,"lo":0.0,"hi":0.0010},
{"t":4.69,"m":"2","est":0.0040,"lo":0.0025,"hi":0.0061},
{"t":9.38,"m":"2","est":0.0250,"lo":0.0220,"hi":0.0290},
{"t":14.06,"m":"2","est":0.0458,"lo":0.0423,"hi":0.0512},
{"t":18.75,"m":"2","est":0.0494,"lo":0.0430,"hi":0.0554},
{"t":23.44,"m":"2","est":0.0437,"lo":0.0385,"hi":0.0490},
{"t":28.13,"m":"2","est":0.0363,"lo":0.0314,"hi":0.0417},
{"t":32.81,"m":"2","est":0.0332,"lo":0.0289,"hi":0.0390},
{"t":37.5,"m":"2","est":0.0314,"lo":0.0262,"hi":0.0387},
{"t":42.19,"m":"2","est":0.0284,"lo":0.0233,"hi":0.0365},
{"t":46.88,"m":"2","est":0.0235,"lo":0.0182,"hi":0.0314},
{"t":51.56,"m":"2","est":0.0200,"lo":0.0140,"hi":0.0299},
{"t":56.25,"m":"2","est":0.0190,"lo":0.0127,"hi":0.0286},
{"t":60.94,"m":"2","est":0.0189,"lo":0.0110,"hi":0.0334},
{"t":65.63,"m":"2","est":0.0167,"lo":0.0083,"hi":0.0334},
{"t":70.31,"m":"2","est":0.0117,"lo":0.0043,"hi":0.0334},
{"t":75,"m":"2","est":0.0073,"lo":0.0015,"hi":0.0433}
],
"surv": [
{"t":0,"m":"1","est":1.0,"lo":1.0,"hi":1.0},
{"t":4.69,"m":"1","est":0.998,"lo":0.996,"hi":1.0},
{"t":9.38,"m":"1","est":0.971,"lo":0.965,"hi":0.977},
{"t":14.06,"m":"1","est":0.927,"lo":0.918,"hi":0.935},
{"t":18.75,"m":"1","est":0.882,"lo":0.871,"hi":0.892},
{"t":23.44,"m":"1","est":0.842,"lo":0.830,"hi":0.855},
{"t":28.13,"m":"1","est":0.806,"lo":0.793,"hi":0.822},
{"t":32.81,"m":"1","est":0.772,"lo":0.758,"hi":0.790},
{"t":37.5,"m":"1","est":0.742,"lo":0.727,"hi":0.760},
{"t":42.19,"m":"1","est":0.718,"lo":0.703,"hi":0.737},
{"t":46.88,"m":"1","est":0.701,"lo":0.686,"hi":0.718},
{"t":51.56,"m":"1","est":0.688,"lo":0.672,"hi":0.705},
{"t":56.25,"m":"1","est":0.678,"lo":0.660,"hi":0.695},
{"t":60.94,"m":"1","est":0.669,"lo":0.648,"hi":0.687},
{"t":65.63,"m":"1","est":0.658,"lo":0.633,"hi":0.678},
{"t":70.31,"m":"1","est":0.645,"lo":0.612,"hi":0.670},
{"t":75,"m":"1","est":0.631,"lo":0.578,"hi":0.662},
{"t":0,"m":"2","est":1.0,"lo":1.0,"hi":1.0},
{"t":4.69,"m":"2","est":0.997,"lo":0.994,"hi":0.999},
{"t":9.38,"m":"2","est":0.968,"lo":0.962,"hi":0.973},
{"t":14.06,"m":"2","est":0.925,"lo":0.916,"hi":0.933},
{"t":18.75,"m":"2","est":0.882,"lo":0.871,"hi":0.892},
{"t":23.44,"m":"2","est":0.845,"lo":0.832,"hi":0.857},
{"t":28.13,"m":"2","est":0.811,"lo":0.797,"hi":0.827},
{"t":32.81,"m":"2","est":0.784,"lo":0.769,"hi":0.800},
{"t":37.5,"m":"2","est":0.762,"lo":0.745,"hi":0.778},
{"t":42.19,"m":"2","est":0.744,"lo":0.726,"hi":0.760},
{"t":46.88,"m":"2","est":0.728,"lo":0.710,"hi":0.745},
{"t":51.56,"m":"2","est":0.714,"lo":0.695,"hi":0.733},
{"t":56.25,"m":"2","est":0.700,"lo":0.681,"hi":0.721},
{"t":60.94,"m":"2","est":0.688,"lo":0.668,"hi":0.710},
{"t":65.63,"m":"2","est":0.677,"lo":0.655,"hi":0.700},
{"t":70.31,"m":"2","est":0.667,"lo":0.636,"hi":0.690},
{"t":75,"m":"2","est":0.659,"lo":0.609,"hi":0.684}
]
},
"spacing": 16,
"resolve": {"scale": {"color": "independent"}},
"vconcat": [
{
  "width": 1006, "height": 262,
  "title": {"text": "(a)"},
  "view": {"stroke": "#333333", "strokeWidth": 1.1},
  "encoding": {
    "x": {"field": "t1", "type": "quantitative", "scale": {"domain": [-3.35, 91.3], "nice": false, "zero": false},
      "axis": {"title": "Time 1 (years)", "values": [0,12.5,25,37.5,50,62.5,75,87.5],
        "labelExpr": "datum.value % 25 === 0 ? datum.label : ''",
        "gridColor": "#EBEBEB",
        "gridWidth": {"condition": {"test": "datum.value % 25 !== 0", "value": 0.55}, "value": 1.1},
        "tickOpacity": {"condition": {"test": "datum.value % 25 !== 0", "value": 0}, "value": 1},
        "tickColor": "#333333", "labelFontSize": 16, "titleFontSize": 19, "labelPadding": 1, "titlePadding": 0}},
    "y": {"field": "t2", "type": "quantitative", "scale": {"domain": [-3.3, 92.6], "nice": false, "zero": false},
      "axis": {"title": "Time 2 (years)", "values": [0,12.5,25,37.5,50,62.5,75,87.5],
        "labelExpr": "datum.value % 25 === 0 ? datum.label : ''",
        "gridColor": "#EBEBEB",
        "gridWidth": {"condition": {"test": "datum.value % 25 !== 0", "value": 0.55}, "value": 1.1},
        "tickOpacity": {"condition": {"test": "datum.value % 25 !== 0", "value": 0}, "value": 1},
        "tickColor": "#333333", "labelFontSize": 16, "titleFontSize": 19, "labelPadding": 2, "titlePadding": 2}}
  },
  "layer": [
    {"data": {"name": "E"}, "mark": {"type": "circle", "size": 17, "opacity": 1},
     "encoding": {"color": {"datum": "Both event", "type": "nominal",
       "scale": {"domain": ["Both event", "Y1 censored", "Y2 censored", "Both censored"], "range": ["#5050B6", "#E69F00", "#1FC43E", "#F65A3D"]},
       "legend": {"title": "Censoring status", "orient": "none", "legendX": 128, "legendY": 320, "direction": "horizontal",
         "titleOrient": "left", "titleFontSize": 22, "labelFontSize": 19.5, "symbolType": "circle", "symbolSize": 80,
         "symbolStrokeWidth": 0, "labelOffset": 5, "columnPadding": 12, "titlePadding": 8}}}},
    {"data": {"name": "Y2"}, "mark": {"type": "circle", "size": 17, "opacity": 1},
     "encoding": {"color": {"datum": "Y2 censored", "type": "nominal"}}},
    {"data": {"name": "Y1"}, "mark": {"type": "circle", "size": 17, "opacity": 1},
     "encoding": {"color": {"datum": "Y1 censored", "type": "nominal"}}},
    {"data": {"name": "C"}, "mark": {"type": "circle", "size": 22, "opacity": 1},
     "encoding": {"color": {"datum": "Both censored", "type": "nominal"}}}
  ]
},
{
  "bounds": "flush",
  "spacing": 33,
  "resolve": {"scale": {"color": "independent", "x": "independent", "y": "independent"}},
  "hconcat": [
    {"width": 1, "height": 1, "view": {"stroke": null}, "data": {"values": [{"z": 0}]},
     "mark": {"type": "point", "opacity": 0}, "encoding": {}},
    {
  "hconcat": [
    {
      "width": 450, "height": 271,
      "title": {"text": "(b)"},
      "view": {"stroke": "#B3B3B3", "strokeWidth": 1.3},
      "data": {"name": "haz"},
      "layer": [
        {"mark": {"type": "line", "strokeWidth": 1.7},
         "encoding": {
           "x": {"field": "t", "type": "quantitative", "scale": {"domain": [-3.75, 78.75], "nice": false, "zero": false},
             "axis": {"title": "Time (years)", "values": [0,10,20,30,40,50,60,70],
               "labelExpr": "datum.value % 20 === 0 ? datum.label : ''",
               "gridColor": {"condition": {"test": "datum.value % 20 !== 0", "value": "#EBEBEB"}, "value": "#DEDEDE"},
               "gridWidth": {"condition": {"test": "datum.value % 20 !== 0", "value": 0.6}, "value": 1.1},
               "tickOpacity": {"condition": {"test": "datum.value % 20 !== 0", "value": 0}, "value": 1},
               "tickColor": "#B3B3B3", "labelFontSize": 16, "titleFontSize": 23, "labelPadding": 1, "titlePadding": 1}},
           "y": {"field": "est", "type": "quantitative", "title": "λ̂(Time)", "scale": {"domain": [-0.0035, 0.0787], "nice": false, "zero": false},
             "axis": {"values": [0,0.01,0.02,0.03,0.04,0.05,0.06,0.07], "format": ".2f",
               "labelExpr": "round(datum.value*100) % 2 === 0 ? datum.label : ''",
               "gridColor": {"condition": {"test": "round(datum.value*100) % 2 !== 0", "value": "#EBEBEB"}, "value": "#DEDEDE"},
               "gridWidth": {"condition": {"test": "round(datum.value*100) % 2 !== 0", "value": 0.6}, "value": 1.1},
               "tickOpacity": {"condition": {"test": "round(datum.value*100) % 2 !== 0", "value": 0}, "value": 1},
               "tickColor": "#B3B3B3", "labelFontSize": 16, "titleFontSize": 25, "labelPadding": 2, "titlePadding": 16}},
           "color": {"field": "m", "type": "nominal", "scale": {"domain": ["1", "2"], "range": ["#E69F00", "#56B4E9"]}, "legend": null}}},
        {"mark": {"type": "area", "fillOpacity": 0.3, "strokeWidth": 0},
         "encoding": {
           "x": {"field": "t", "type": "quantitative"},
           "y": {"field": "lo", "type": "quantitative", "title": "λ̂(Time)"},
           "y2": {"field": "hi"},
           "color": {"field": "m", "type": "nominal", "legend": null}}},
        {"mark": {"type": "line", "strokeWidth": 0.9, "strokeDash": [1, 2]},
         "encoding": {
           "x": {"field": "t", "type": "quantitative"},
           "y": {"field": "lo", "type": "quantitative", "title": "λ̂(Time)"},
           "color": {"field": "m", "type": "nominal", "legend": null}}},
        {"mark": {"type": "line", "strokeWidth": 0.9, "strokeDash": [1, 2]},
         "encoding": {
           "x": {"field": "t", "type": "quantitative"},
           "y": {"field": "hi", "type": "quantitative", "title": "λ̂(Time)"},
           "color": {"field": "m", "type": "nominal", "legend": null}}}
      ]
    },
    {
      "width": 452, "height": 271,
      "title": {"text": "(c)"},
      "view": {"stroke": "#B3B3B3", "strokeWidth": 1.3},
      "data": {"name": "surv"},
      "layer": [
        {"data": {"values": [{"h": 0.5}]}, "mark": {"type": "rule", "color": "#FF8080", "strokeWidth": 1.1, "strokeDash": [6, 4]},
         "encoding": {"y": {"field": "h", "type": "quantitative", "title": "Ŝ(Time)"}}},
        {"mark": {"type": "line", "strokeWidth": 1.7},
         "encoding": {
           "x": {"field": "t", "type": "quantitative", "scale": {"domain": [-3.75, 78.75], "nice": false, "zero": false},
             "axis": {"title": "Time (years)", "values": [0,10,20,30,40,50,60,70],
               "labelExpr": "datum.value % 20 === 0 ? datum.label : ''",
               "gridColor": {"condition": {"test": "datum.value % 20 !== 0", "value": "#EBEBEB"}, "value": "#DEDEDE"},
               "gridWidth": {"condition": {"test": "datum.value % 20 !== 0", "value": 0.6}, "value": 1.1},
               "tickOpacity": {"condition": {"test": "datum.value % 20 !== 0", "value": 0}, "value": 1},
               "tickColor": "#B3B3B3", "labelFontSize": 16, "titleFontSize": 23, "labelPadding": 1, "titlePadding": 1}},
           "y": {"field": "est", "type": "quantitative", "title": "Ŝ(Time)", "scale": {"domain": [0.3716, 1.03], "nice": false, "zero": false},
             "axis": {"values": [0.4,0.5,0.6,0.7,0.8,0.9,1.0], "format": ".1f",
               "labelExpr": "round(datum.value*10) % 2 === 0 ? datum.label : ''",
               "gridColor": {"condition": {"test": "round(datum.value*10) % 2 !== 0", "value": "#EBEBEB"}, "value": "#DEDEDE"},
               "gridWidth": {"condition": {"test": "round(datum.value*10) % 2 !== 0", "value": 0.6}, "value": 1.1},
               "tickOpacity": {"condition": {"test": "round(datum.value*10) % 2 !== 0", "value": 0}, "value": 1},
               "tickColor": "#B3B3B3", "labelFontSize": 16, "titleFontSize": 25, "labelPadding": 2, "titlePadding": 6}},
           "color": {"field": "m", "type": "nominal", "scale": {"domain": ["1", "2"], "range": ["#E69F00", "#56B4E9"]},
             "legend": {"title": "Margin", "orient": "none", "legendX": -158, "legendY": 320, "direction": "horizontal",
               "titleOrient": "left", "titleFontSize": 23, "labelFontSize": 19, "symbolType": "M-1,-1H1V1H-1Z M-1,0H1",
               "symbolSize": 760, "symbolStrokeWidth": 1.3, "symbolOpacity": 0.35, "labelOffset": 6, "columnPadding": 8, "titlePadding": 8}}}},
        {"mark": {"type": "area", "fillOpacity": 0.3, "strokeWidth": 0},
         "encoding": {
           "x": {"field": "t", "type": "quantitative"},
           "y": {"field": "lo", "type": "quantitative", "title": "Ŝ(Time)"},
           "y2": {"field": "hi"},
           "color": {"field": "m", "type": "nominal", "legend": null}}},
        {"mark": {"type": "line", "strokeWidth": 0.9, "strokeDash": [1, 2]},
         "encoding": {
           "x": {"field": "t", "type": "quantitative"},
           "y": {"field": "lo", "type": "quantitative", "title": "Ŝ(Time)"},
           "color": {"field": "m", "type": "nominal", "legend": null}}},
        {"mark": {"type": "line", "strokeWidth": 0.9, "strokeDash": [1, 2]},
         "encoding": {
           "x": {"field": "t", "type": "quantitative"},
           "y": {"field": "hi", "type": "quantitative", "title": "Ŝ(Time)"},
           "color": {"field": "m", "type": "nominal", "legend": null}}}
      ]
    }
  ],
  "bounds": "flush",
  "spacing": 80,
  "resolve": {"scale": {"color": "independent", "x": "independent", "y": "independent"}}
    }
  ]
}
]
}
